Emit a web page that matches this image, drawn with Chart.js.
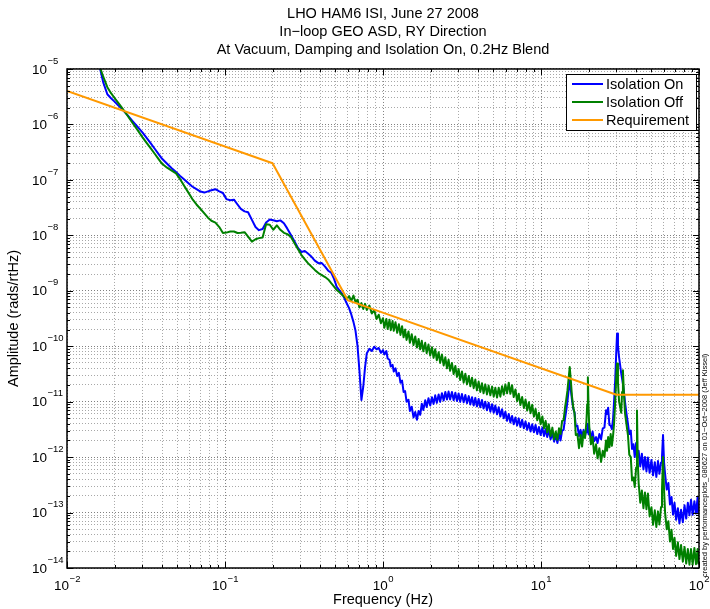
<!DOCTYPE html>
<html>
<head>
<meta charset="utf-8">
<title>LHO HAM6 ISI RY ASD</title>
<script src="https://cdn.jsdelivr.net/npm/chart.js@4.4.1/dist/chart.umd.min.js"></script>
<style>
  html, body { margin: 0; padding: 0; background: #fff; }
  #wrap { width: 710px; height: 609px; }
</style>
</head>
<body>
<div id="wrap"><canvas id="asdChart"></canvas></div>
<script>
// frequency bins (Hz) shared by both measured spectra
const freq = [
  0.016, 0.017, 0.018, 0.019, 0.02, 0.021, 0.022, 0.024, 0.026, 0.028,
  0.03, 0.032, 0.034, 0.036, 0.038, 0.04, 0.043, 0.046, 0.049, 0.052,
  0.055, 0.058, 0.062, 0.066, 0.07, 0.074, 0.078, 0.082, 0.087, 0.092,
  0.097, 0.102, 0.108, 0.114, 0.12, 0.126, 0.133, 0.14, 0.148, 0.156,
  0.164, 0.173, 0.182, 0.192, 0.202, 0.213, 0.224, 0.236, 0.248, 0.261,
  0.275, 0.29, 0.305, 0.32, 0.335, 0.35, 0.37, 0.39, 0.41, 0.43,
  0.45, 0.47, 0.49, 0.51, 0.53, 0.55, 0.57, 0.59, 0.61, 0.63,
  0.65, 0.67, 0.69, 0.71, 0.73, 0.75, 0.77, 0.79, 0.82, 0.85,
  0.88, 0.91, 0.94, 0.97,
  1.0, 1.02, 1.05, 1.07, 1.1, 1.12, 1.15, 1.17, 1.2, 1.23,
  1.26, 1.29, 1.32, 1.35, 1.38, 1.41, 1.45, 1.48, 1.52, 1.56,
  1.6, 1.64, 1.68, 1.72, 1.76, 1.8, 1.85, 1.89, 1.94, 1.99,
  2.04, 2.09, 2.14, 2.19, 2.25, 2.3, 2.36, 2.42, 2.48, 2.54,
  2.6, 2.66, 2.73, 2.8, 2.87, 2.94, 3.01, 3.08, 3.16, 3.24,
  3.32, 3.4, 3.49, 3.57, 3.66, 3.75, 3.84, 3.93, 4.03, 4.13,
  4.23, 4.33, 4.44, 4.55, 4.66, 4.78, 4.9, 5.02, 5.14, 5.27,
  5.4, 5.53, 5.67, 5.81, 5.95, 6.1, 6.25, 6.4, 6.56, 6.72,
  6.89, 7.06, 7.23, 7.41, 7.6, 7.79, 7.98, 8.18, 8.38, 8.59,
  8.8, 9.02, 9.24, 9.47, 9.7, 9.95, 10.2, 10.45, 10.7, 10.95,
  11.2, 11.5, 11.8, 12.1, 12.4, 12.7, 13.0, 13.3, 13.6, 13.9,
  14.2, 14.45, 14.7, 14.95, 15.2, 15.45, 15.7, 16.0, 16.3, 16.6,
  17.0, 17.4, 17.8, 18.2, 18.6, 19.0, 19.4, 19.6, 19.8, 20.0,
  20.2, 20.7, 21.2, 21.7, 22.3, 22.8, 23.4, 24.0, 24.6, 25.2,
  25.8, 26.2, 26.6, 27.1, 27.6, 28.1, 28.6, 29.0, 29.5, 29.9,
  30.3, 30.7, 31.2, 31.7, 32.2, 32.6, 33.0, 33.5, 34.0, 34.7,
  35.5, 36.2, 37.0, 37.7, 38.5, 39.2, 40.0, 40.5, 41.0, 41.5,
  42.5, 43.5, 44.5, 45.5, 46.5, 47.5, 48.7, 50, 51.2, 52.5,
  53.7, 55, 56.2, 57.5, 58.3, 59.2, 60.1, 61, 62.5, 64,
  65.5, 67, 68.5, 70, 71.7, 73.5, 75.2, 77, 79, 81,
  83, 85, 87, 89, 91.2, 93.5, 95.7, 98, 99, 100
];

// ASD with isolation loops closed (rads/rtHz)
const isoOn = [
  1.17e-5, 5.6e-6, 3.5e-6, 2.97e-6, 2.58e-6, 2.24e-6, 1.97e-6, 1.5e-6, 1.15e-6, 9.0e-7,
  7.2e-7, 5.66e-7, 4.5e-7, 3.6e-7, 2.92e-7, 2.4e-7, 1.95e-7, 1.62e-7, 1.38e-7, 1.18e-7,
  1.03e-7, 9.0e-8, 7.6e-8, 6.8e-8, 6.15e-8, 5.9e-8, 6.2e-8, 6.5e-8, 6.8e-8, 6.2e-8,
  5.8e-8, 4.5e-8, 4.3e-8, 4.4e-8, 3.6e-8, 3.0e-8, 2.7e-8, 2.6e-8, 1.9e-8, 1.41e-8,
  1.24e-8, 1.3e-8, 1.7e-8, 1.93e-8, 1.87e-8, 1.8e-8, 1.86e-8, 1.65e-8, 1.32e-8, 1.02e-8,
  7.8e-9, 5.85e-9, 5.0e-9, 5.2e-9, 4.7e-9, 4.2e-9, 3.5e-9, 3.15e-9, 3.16e-9, 2.72e-9,
  2.3e-9, 2.12e-9, 1.64e-9, 1.17e-9, 1.02e-9, 8.9e-10, 7.3e-10, 5.9e-10, 4.86e-10, 3.74e-10,
  2.75e-10, 1.9e-10, 1.0e-10, 3.5e-11, 1.07e-11, 1.86e-11, 4.2e-11, 7.5e-11, 9.0e-11, 8.2e-11,
  9.8e-11, 8.8e-11, 9.3e-11, 7.6e-11,
  8.5e-11, 7.1e-11, 8.2e-11, 6.0e-11, 5.7e-11, 4.3e-11, 4.6e-11, 3.5e-11, 4.0e-11, 2.9e-11,
  3.3e-11, 2.2e-11, 2.4e-11, 1.5e-11, 1.55e-11, 1.0e-11, 1.08e-11, 6.8e-12, 8.1e-12, 5.2e-12,
  6.5e-12, 4.7e-12, 6.8e-12, 5.8e-12, 9.2e-12, 7.1e-12, 1.06e-11, 8.0e-12, 1.15e-11, 8.5e-12,
  1.2e-11, 9.1e-12, 1.3e-11, 9.5e-12, 1.35e-11, 9.9e-12, 1.42e-11, 1.05e-11, 1.5e-11, 1.09e-11,
  1.52e-11, 1.09e-11, 1.49e-11, 1.06e-11, 1.45e-11, 1.03e-11, 1.4e-11, 9.9e-12, 1.37e-11, 9.7e-12,
  1.32e-11, 9.4e-12, 1.26e-11, 8.9e-12, 1.2e-11, 8.5e-12, 1.17e-11, 8.2e-12, 1.12e-11, 7.9e-12,
  1.07e-11, 7.5e-12, 1.0e-11, 7.0e-12, 9.6e-12, 6.6e-12, 9.0e-12, 6.3e-12, 8.5e-12, 5.9e-12,
  7.9e-12, 5.4e-12, 7.3e-12, 5.0e-12, 6.6e-12, 4.5e-12, 6.0e-12, 4.2e-12, 5.5e-12, 3.9e-12,
  5.2e-12, 3.7e-12, 5.0e-12, 3.5e-12, 4.7e-12, 3.3e-12, 4.4e-12, 3.1e-12, 4.1e-12, 2.9e-12,
  3.9e-12, 2.8e-12, 3.8e-12, 2.6e-12, 3.5e-12, 2.5e-12, 3.4e-12, 2.4e-12, 3.2e-12, 2.3e-12,
  3.1e-12, 2.1e-12, 2.7e-12, 1.9e-12, 2.5e-12, 1.8e-12, 2.6e-12, 2.0e-12, 3.0e-12, 3.1e-12,
  5.0e-12, 7.0e-12, 1.0e-11, 1.6e-11, 2.4e-11, 1.6e-11, 1.1e-11, 7.5e-12, 6.4e-12, 3.6e-12,
  3.7e-12, 2.4e-12, 3.1e-12, 2.3e-12, 3.1e-12, 2.4e-12, 3.2e-12, 2.8e-12, 4.0e-12, 2.6e-12,
  3.2e-12, 2.2e-12, 2.9e-12, 1.95e-12, 2.3e-12, 1.8e-12, 2.6e-12, 2.1e-12, 3.3e-12, 3.4e-12,
  7.0e-12, 6.0e-12, 7.8e-12, 3.8e-12, 3.7e-12, 3.2e-12, 5.0e-12, 1.0e-11, 2.5e-11, 7.0e-11,
  1.7e-10, 1.0e-10, 6.3e-11, 4.5e-11, 3.2e-11, 2.6e-11, 2.1e-11, 1.5e-11, 1.0e-11, 6.3e-12,
  4.0e-12, 2.6e-12, 3.0e-12, 1.4e-12, 1.7e-12, 1.0e-12, 1.8e-12, 1.8e-12, 1.0e-12, 1.3e-12,
  6.8e-13, 1.15e-12, 6.0e-13, 1.0e-12, 5.5e-13, 9.8e-13, 5.2e-13, 8.9e-13, 4.7e-13, 8.1e-13,
  4.4e-13, 8.5e-13, 5.0e-13, 8.0e-13, 1.0e-12, 2.5e-12, 8.0e-13, 5.0e-13, 2.6e-13, 3.4e-13,
  1.4e-13, 1.9e-13, 9.2e-14, 1.5e-13, 7.4e-14, 1.2e-13, 6.4e-14, 1.12e-13, 6.7e-14, 1.35e-13,
  7.8e-14, 1.5e-13, 8.9e-14, 1.7e-13, 9.1e-14, 1.6e-13, 9.6e-14, 1.9e-13, 9.6e-14, 1.5e-13
];

// ASD with isolation loops open (rads/rtHz)
const isoOff = [
  1.17e-5, 7.1e-6, 4.7e-6, 3.66e-6, 3.0e-6, 2.5e-6, 2.1e-6, 1.48e-6, 1.06e-6, 7.9e-7,
  5.9e-7, 4.6e-7, 3.66e-7, 2.93e-7, 2.37e-7, 1.95e-7, 1.66e-7, 1.47e-7, 1.31e-7, 1.03e-7,
  7.9e-8, 6.2e-8, 4.55e-8, 3.6e-8, 2.98e-8, 2.48e-8, 2.08e-8, 1.83e-8, 1.7e-8, 1.41e-8,
  1.1e-8, 1.12e-8, 1.17e-8, 1.17e-8, 1.1e-8, 1.11e-8, 1.14e-8, 9.5e-9, 7.7e-9, 8.5e-9,
  8.9e-9, 9.1e-9, 1.58e-8, 1.55e-8, 1.26e-8, 1.51e-8, 1.26e-8, 1.11e-8, 1.05e-8, 9.4e-9,
  7.3e-9, 5.6e-9, 4.4e-9, 3.7e-9, 3.15e-9, 2.78e-9, 2.38e-9, 2.09e-9, 1.92e-9, 1.77e-9,
  1.6e-9, 1.37e-9, 1.19e-9, 1.03e-9, 9.4e-10, 8.5e-10, 7.8e-10, 7.1e-10, 8.0e-10, 6.6e-10,
  8.2e-10, 6.2e-10, 6.9e-10, 5.0e-10, 6.0e-10, 4.7e-10, 5.8e-10, 4.5e-10, 5.4e-10, 3.9e-10,
  4.5e-10, 3.1e-10, 3.7e-10, 2.6e-10,
  3.2e-10, 2.15e-10, 3.1e-10, 2.05e-10, 3.0e-10, 1.95e-10, 2.85e-10, 1.9e-10, 2.7e-10, 1.75e-10,
  2.5e-10, 1.6e-10, 2.3e-10, 1.45e-10, 2.0e-10, 1.3e-10, 1.85e-10, 1.15e-10, 1.65e-10, 1.05e-10,
  1.5e-10, 9.5e-11, 1.35e-10, 8.8e-11, 1.25e-10, 8.1e-11, 1.15e-10, 7.5e-11, 1.07e-10, 6.8e-11,
  9.6e-11, 6.2e-11, 8.8e-11, 5.6e-11, 7.8e-11, 5.0e-11, 7.1e-11, 4.5e-11, 6.3e-11, 4.0e-11,
  5.7e-11, 3.6e-11, 5.0e-11, 3.15e-11, 4.4e-11, 2.8e-11, 3.9e-11, 2.45e-11, 3.5e-11, 2.2e-11,
  3.2e-11, 2.05e-11, 2.9e-11, 1.9e-11, 2.7e-11, 1.75e-11, 2.5e-11, 1.6e-11, 2.3e-11, 1.5e-11,
  2.15e-11, 1.42e-11, 2.05e-11, 1.35e-11, 1.95e-11, 1.3e-11, 1.87e-11, 1.23e-11, 1.78e-11, 1.19e-11,
  1.78e-11, 1.23e-11, 1.9e-11, 1.33e-11, 2.05e-11, 1.41e-11, 2.2e-11, 1.39e-11, 1.98e-11, 1.21e-11,
  1.66e-11, 1.02e-11, 1.39e-11, 8.7e-12, 1.21e-11, 7.7e-12, 1.09e-11, 6.9e-12, 9.8e-12, 6.2e-12,
  8.8e-12, 5.4e-12, 7.4e-12, 4.6e-12, 6.3e-12, 3.9e-12, 5.4e-12, 3.3e-12, 4.5e-12, 2.8e-12,
  3.9e-12, 2.4e-12, 3.4e-12, 2.1e-12, 2.9e-12, 2.05e-12, 3.3e-12, 2.6e-12, 4.5e-12, 4.6e-12,
  7.9e-12, 1.1e-11, 1.58e-11, 2.6e-11, 4.2e-11, 2.4e-11, 1.26e-11, 7.9e-12, 6.2e-12, 2.5e-12,
  2.6e-12, 1.45e-12, 2.5e-12, 1.55e-12, 2.9e-12, 2.2e-12, 4.5e-12, 9.0e-12, 2.75e-11, 8.0e-12,
  3.6e-12, 1.7e-12, 2.3e-12, 1.15e-12, 1.7e-12, 9.5e-13, 1.45e-12, 8.2e-13, 1.3e-12, 1.0e-12,
  2.0e-12, 1.3e-12, 2.3e-12, 1.5e-12, 2.6e-12, 1.6e-12, 2.5e-12, 4.0e-12, 1.0e-11, 2.5e-11,
  4.9e-11, 2.2e-11, 1.0e-11, 8.0e-12, 6.3e-12, 1.5e-11, 3.7e-11, 1.4e-11, 6.3e-12, 4.0e-12,
  2.5e-12, 1.1e-12, 1.0e-12, 3.8e-13, 4.3e-13, 2.9e-13, 6.5e-13, 6.9e-12, 8.0e-13, 3.4e-13,
  1.5e-13, 2.5e-13, 1.2e-13, 2.3e-13, 1.15e-13, 2.2e-13, 8.6e-14, 1.25e-13, 6.0e-14, 1.1e-13,
  5.5e-14, 1.05e-13, 6.1e-14, 1.26e-13, 2.5e-13, 1.0e-12, 2.5e-13, 1.0e-13, 5.0e-14, 7.0e-14,
  3.0e-14, 4.9e-14, 2.2e-14, 3.5e-14, 1.65e-14, 2.9e-14, 1.45e-14, 2.6e-14, 1.3e-14, 2.4e-14,
  1.2e-14, 2.2e-14, 1.15e-14, 2.2e-14, 1.15e-14, 2.3e-14, 1.17e-14, 2.2e-14, 1.2e-14, 2.0e-14
];

// requirement curve break points
const reqFreq = [0.01, 0.2, 0.6, 30, 100];
const reqAmp = [4e-6, 2e-7, 6.7e-10, 1.33e-11, 1.33e-11];

// axis decades
const xDecades = [-2, -1, 0, 1, 2];
const yDecades = [-14, -13, -12, -11, -10, -9, -8, -7, -6, -5];

const titleLines = [
  'LHO HAM6 ISI, June 27 2008',
  'In\u2212loop GEO ASD, RY Direction',
  'At Vacuum, Damping and Isolation On, 0.2Hz Blend'
];
const footNote = 'created by performanceplots_080627 on 01\u2212Oct\u22122008 (Jeff Kissel)';

const FONT = "'Liberation Sans', Arial, Helvetica, sans-serif";
Chart.defaults.font.family = FONT;
Chart.defaults.color = '#000';

function isDecade(v) {
  const l = Math.log10(v);
  return Math.abs(l - Math.round(l)) < 1e-6;
}

// 1..9 x 10^e ticks for every decade in the range
function logTicks(decades) {
  const out = [];
  decades.forEach((e, i) => {
    const last = i === decades.length - 1;
    for (let m = 1; m <= (last ? 1 : 9); m++) {
      out.push({ value: m * Math.pow(10, e), major: m === 1 });
    }
  });
  return out;
}

function pairs(xs, ys) {
  return xs.map((x, i) => ({ x: x, y: ys[i] }));
}

// box, inward ticks, decade labels, legend and footnote
const matlabAxes = {
  id: 'matlabAxes',
  afterDatasetsDraw(chart) {
    const { ctx, chartArea: a, scales: { x, y } } = chart;
    ctx.save();
    ctx.strokeStyle = '#000';
    ctx.lineWidth = 1;
    ctx.beginPath();
    x.ticks.forEach(t => {
      const px = Math.round(x.getPixelForValue(t.value)) + 0.5;
      const len = isDecade(t.value) ? 6 : 3;
      ctx.moveTo(px, a.bottom); ctx.lineTo(px, a.bottom - len);
      ctx.moveTo(px, a.top); ctx.lineTo(px, a.top + len);
    });
    y.ticks.forEach(t => {
      const py = Math.round(y.getPixelForValue(t.value)) + 0.5;
      const len = isDecade(t.value) ? 6 : 3;
      ctx.moveTo(a.left, py); ctx.lineTo(a.left + len, py);
      ctx.moveTo(a.right, py); ctx.lineTo(a.right - len, py);
    });
    ctx.stroke();
    ctx.lineWidth = 1.5;
    ctx.strokeRect(a.left, a.top, a.right - a.left, a.bottom - a.top);
    ctx.restore();
  },
  afterDraw(chart) {
    const { ctx, chartArea: a, scales: { x, y } } = chart;
    const baseFont = '13.5px ' + FONT;
    const supFont = '9.5px ' + FONT;
    ctx.save();
    ctx.fillStyle = '#000';
    ctx.textBaseline = 'middle';
    ctx.textAlign = 'left';

    xDecades.forEach(e => {
      const px = x.getPixelForValue(Math.pow(10, e));
      const sup = e < 0 ? '\u2212' + (-e) : String(e);
      ctx.font = baseFont;
      const wb = ctx.measureText('10').width;
      ctx.font = supFont;
      const ws = ctx.measureText(sup).width;
      const left = px - (wb + ws) / 2;
      ctx.font = baseFont;
      ctx.fillText('10', left, a.bottom + 18);
      ctx.font = supFont;
      ctx.fillText(sup, left + wb + 0.5, a.bottom + 11);
    });

    yDecades.forEach(e => {
      const py = y.getPixelForValue(Math.pow(10, e));
      ctx.font = baseFont;
      const wb = ctx.measureText('10').width;
      ctx.fillText('10', 32, py + 1);
      ctx.font = supFont;
      ctx.fillText('\u2212' + (-e), 32 + wb + 0.5, py - 8);
    });

    // legend box, top right inside the axes
    const box = { l: 566, t: 74, r: 696, b: 130 };
    ctx.fillStyle = '#fff';
    ctx.fillRect(box.l, box.t, box.r - box.l, box.b - box.t);
    ctx.strokeStyle = '#000';
    ctx.lineWidth = 1;
    ctx.strokeRect(box.l + 0.5, box.t + 0.5, box.r - box.l, box.b - box.t);
    ctx.font = '14.5px ' + FONT;
    chart.data.datasets.forEach((ds, i) => {
      const ly = box.t + 10 + i * 18;
      ctx.strokeStyle = ds.borderColor;
      ctx.lineWidth = 2;
      ctx.beginPath();
      ctx.moveTo(572, ly);
      ctx.lineTo(603, ly);
      ctx.stroke();
      ctx.fillStyle = '#000';
      ctx.fillText(ds.label, 606, ly + 1);
    });

    // creator stamp along the right edge
    ctx.translate(705, 577);
    ctx.rotate(-Math.PI / 2);
    ctx.font = '7.5px ' + FONT;
    ctx.fillStyle = '#000';
    ctx.fillText(footNote, 0, 0);
    ctx.restore();
  }
};

const gridColor = c => (c.tick && isDecade(c.tick.value)) ? '#808080' : '#a8a8a8';

new Chart(document.getElementById('asdChart'), {
  type: 'line',
  data: {
    datasets: [{
      label: 'Isolation On',
      data: pairs(freq, isoOn),
      borderColor: '#0000ff',
      borderWidth: 2,
      order: 2
    }, {
      label: 'Isolation Off',
      data: pairs(freq, isoOff),
      borderColor: '#008000',
      borderWidth: 2,
      order: 1
    }, {
      label: 'Requirement',
      data: pairs(reqFreq, reqAmp),
      borderColor: '#ff9900',
      borderWidth: 2,
      order: 0
    }]
  },
  options: {
    responsive: true,
    maintainAspectRatio: false,
    animation: false,
    events: [],
    layout: { padding: { left: 0, right: 11, top: 0, bottom: 0 } },
    elements: {
      point: { radius: 0 },
      line: { tension: 0, fill: false, borderJoinStyle: 'round' }
    },
    datasets: { line: { clip: 0 } },
    plugins: {
      legend: { display: false },
      tooltip: { enabled: false },
      title: {
        display: true,
        text: titleLines,
        fullSize: false,
        color: '#000',
        font: { size: 14.5, weight: 'normal', lineHeight: 1.241 },
        padding: { top: 5, bottom: 10 }
      }
    },
    scales: {
      x: {
        type: 'logarithmic',
        min: 0.01,
        max: 100,
        afterBuildTicks: s => { s.ticks = logTicks(xDecades); },
        afterFit: s => { s.height = 41; },
        ticks: { display: false },
        grid: { color: gridColor, drawTicks: false, lineWidth: 1 },
        border: { display: false, dash: [1, 2] },
        title: { display: true, text: 'Frequency (Hz)', font: { size: 14.5 }, padding: 0 }
      },
      y: {
        type: 'logarithmic',
        min: 1e-14,
        max: 1e-5,
        afterBuildTicks: s => { s.ticks = logTicks(yDecades); },
        afterFit: s => { s.width = 67; },
        ticks: { display: false },
        grid: { color: gridColor, drawTicks: false, lineWidth: 1 },
        border: { display: false, dash: [1, 2] },
        title: { display: true, text: 'Amplitude (rads/rtHz)', font: { size: 14.5 }, padding: 5 }
      }
    }
  },
  plugins: [matlabAxes]
});
</script>
</body>
</html>
